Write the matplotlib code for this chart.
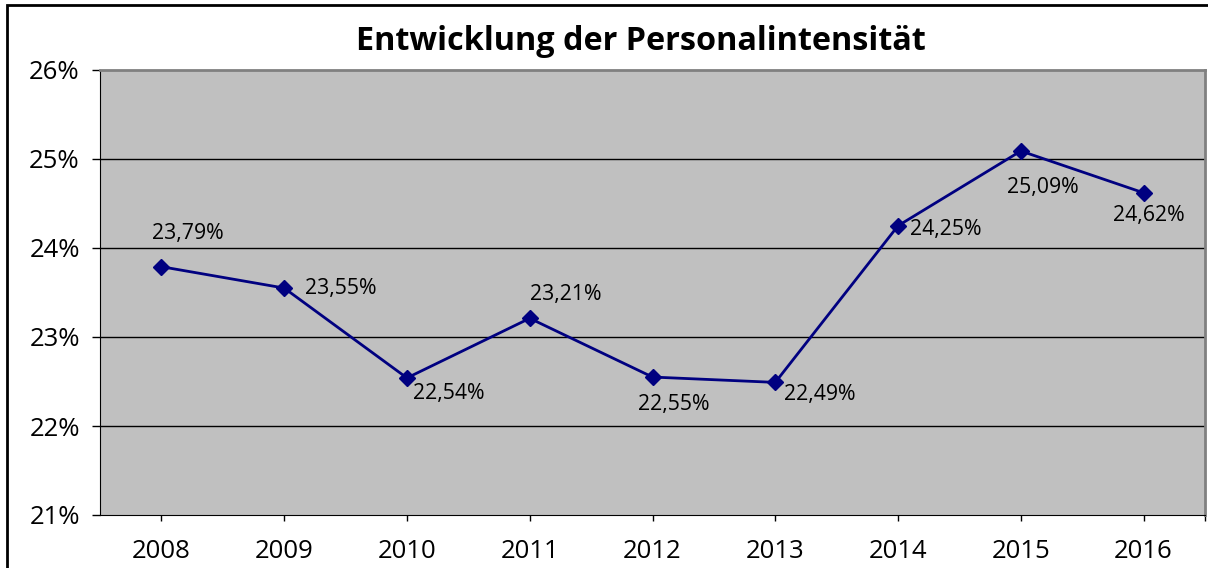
import matplotlib
matplotlib.use("Agg")
import matplotlib.pyplot as plt
from matplotlib.patches import Rectangle

years = ["2008", "2009", "2010", "2011", "2012", "2013", "2014", "2015", "2016"]
values = [23.79, 23.55, 22.54, 23.21, 22.55, 22.49, 24.25, 25.09, 24.62]
labels = ["23,79%", "23,55%", "22,54%", "23,21%", "22,55%", "22,49%", "24,25%", "25,09%", "24,62%"]
yticks = [21, 22, 23, 24, 25, 26]
ytick_labels = ["21%", "22%", "23%", "24%", "25%", "26%"]
# label offsets in points (dx, dy)
offsets = [(19, 24), (41, 0), (30, -11), (26, 17), (15, -20), (32, -9), (34, -3), (16, -26), (4, -16)]

W, H = 1208, 568
fig = plt.figure(figsize=(W / 100, H / 100), dpi=100)
plt.rcParams['font.family'] = ['Open Sans', 'DejaVu Sans']

# outer border
fig.patches.append(Rectangle((7 / W, -0.05), 1.1, 1 - 5 / H + 0.05, transform=fig.transFigure,
                             fill=False, edgecolor='black', linewidth=2, zorder=0))

ax = fig.add_axes([100 / W, 1 - 515 / H, 1105 / W, 445 / H])
ax.set_facecolor('#C0C0C0')
x = list(range(len(years)))
ax.set_xlim(-0.5, 8.5)
ax.set_ylim(21, 26)

for yv in yticks[1:-1]:
    ax.axhline(yv, color='black', linewidth=1, zorder=1)

ax.plot(x, values, color='#000080', linewidth=2, marker='D', markersize=8,
        markerfacecolor='#000080', markeredgecolor='#000080', zorder=3)

for xi, v, lab, (dx, dy) in zip(x, values, labels, offsets):
    ax.annotate(lab, (xi, v), xytext=(dx, dy), textcoords='offset points',
                ha='center', va='center', fontsize=15.3, color='black')

ax.set_yticks(yticks)
ax.set_yticklabels(ytick_labels, fontsize=18.5)
ax.set_xticks(x + [8.5])
ax.set_xticklabels(years + [""], fontsize=18.5)
ax.tick_params(axis='y', length=6, width=1, pad=8.5)
ax.tick_params(axis='x', length=4.5, width=1, pad=13)

ax.spines['left'].set_color('black')
ax.spines['bottom'].set_color('black')
ax.spines['top'].set_color('#808080')
ax.spines['right'].set_color('#808080')
ax.spines['top'].set_linewidth(2)
ax.spines['right'].set_linewidth(2)

fig.text(640.5 / W, 1 - 42 / H, "Entwicklung der Personalintensität", ha='center', va='center',
         fontsize=23.3, fontweight='bold', family=['Open Sans', 'DejaVu Sans'])

fig.savefig("out.png", dpi=100)
